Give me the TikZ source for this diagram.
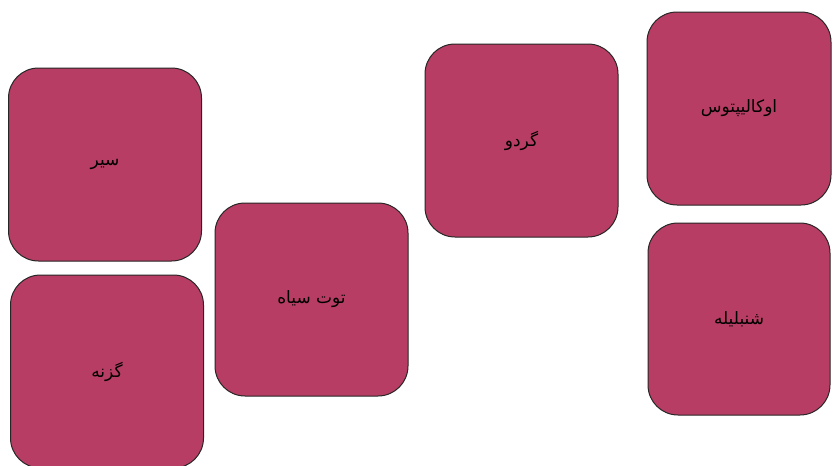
\documentclass[tikz,border=0pt]{standalone}
\usepackage{fontspec}
\newfontfamily\arabicfont[Script=Arabic]{DejaVu Sans}
\TeXXeTstate=1
\usepackage{xcolor}
\definecolor{herbrose}{HTML}{B83D64}
\usepackage{tikz}
\usetikzlibrary{positioning}

\begin{document}
\begin{tikzpicture}[x=1pt, y=-1pt,
    herb/.style={rectangle, rounded corners=30pt, draw=black!85, fill=herbrose, line width=1pt, minimum width=193pt, minimum height=193pt, font=\arabicfont\fontsize{17}{19}\selectfont, text=black},
]
    \useasboundingbox (0,0) rectangle (833,466);

    \node[herb] (sir) at (105,164.5) {\beginR سیر\endR};
    \node[herb] (gazaneh) at (107,371.5) {\beginR گزنه\endR};
    \node[herb] (toot) at (311.5,299.5) {\beginR توت سیاه\endR};
    \node[herb] (gerdoo) at (521.5,140.5) {\beginR گردو\endR};
    \node[herb, minimum width=184pt] (okaliptoos) at (739,108.5) {\beginR اوکالیپتوس\endR};
    \node[herb, minimum width=182pt, minimum height=192pt] (shanbalileh) at (739,319) {\beginR شنبلیله\endR};
\end{tikzpicture}
\end{document}
